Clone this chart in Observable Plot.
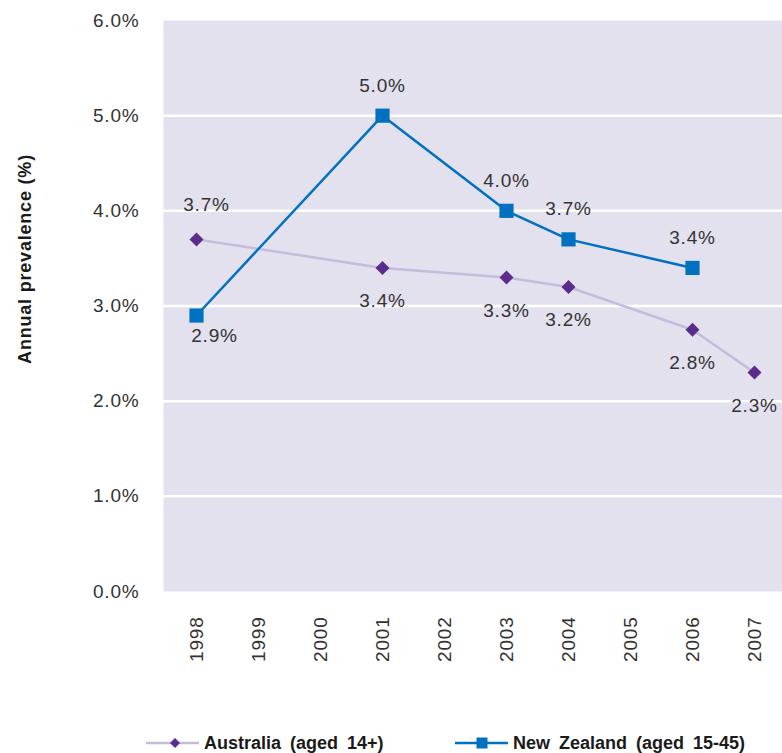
<!DOCTYPE html>
<html>
<head>
<meta charset="utf-8">
<script src="https://cdn.jsdelivr.net/npm/d3@7"></script>
<script src="https://cdn.jsdelivr.net/npm/@observablehq/plot@0.6"></script>
<style>
  body { margin: 0; background: #fff; font-family: "Liberation Sans", Arial, sans-serif; }
  #legend { position: relative; width: 782px; height: 43px; }
  .item { position: absolute; top: 23px; height: 20px; display: flex; align-items: center;
          font-weight: bold; font-size: 18px; color: #1a1a1a; word-spacing: 4px; white-space: nowrap; }
  .item svg { margin-right: 5px; }
</style>
</head>
<body>
<div id="chart"></div>
<div id="legend"></div>
<script>
// Survey years shown on the x axis
const years = ["1998", "1999", "2000", "2001", "2002", "2003", "2004", "2005", "2006", "2007"];

// Australia (aged 14+): annual prevalence, %
const ausYears = ["1998", "2001", "2003", "2004", "2006", "2007"];
const ausValues = [3.7, 3.4, 3.3, 3.2, 2.75, 2.3];

// New Zealand (aged 15-45): annual prevalence, %
const nzYears = ["1998", "2001", "2003", "2004", "2006"];
const nzValues = [2.9, 5.0, 4.0, 3.7, 3.4];

// Y axis ticks
const yTicks = [0, 1, 2, 3, 4, 5, 6];
const gridTicks = [1, 2, 3, 4, 5];

const seriesNames = ["Australia (aged 14+)", "New Zealand (aged 15-45)"];

const aus = ausYears.map((year, i) => ({year, value: ausValues[i], i}));
const nz = nzYears.map((year, i) => ({year, value: nzValues[i], i}));

const pct = (d) => d.toFixed(1) + "%";

const ausLine = "#c5bbdc";
const ausMark = "#5b2c8c";
const nzColor = "#0070c0";
const textColor = "#333333";

const labelStyle = {fontSize: 19, fill: textColor, stroke: null};

const chart = Plot.plot({
  width: 782,
  height: 710,
  marginTop: 20,
  marginBottom: 119,
  marginLeft: 163,
  marginRight: 0,
  style: {fontFamily: "'Liberation Sans', Arial, sans-serif", fontSize: "19px", color: textColor, letterSpacing: "0.8px", background: "#fff"},
  x: {type: "point", domain: years, range: [163, 786], padding: 0.5, label: null},
  y: {domain: [0, 6], label: null},
  marks: [
    Plot.frame({fill: "#e3e1ed", stroke: "none"}),
    Plot.ruleY(gridTicks, {stroke: "#ffffff", strokeWidth: 2.5}),
    Plot.axisY({ticks: yTicks, tickFormat: pct, tickSize: 0, tickPadding: 24, fontSize: 19}),
    Plot.axisX({tickRotate: -90, tickSize: 0, tickPadding: 25, fontSize: 19}),
    Plot.text(["Annual prevalence (%)"], {frameAnchor: "left", textAnchor: "middle", rotate: -90, dx: -138, dy: -47, fontSize: 18, fontWeight: "bold", fill: "#1a1a1a"}),
    // Australia series
    Plot.line(aus, {x: "year", y: "value", stroke: ausLine, strokeWidth: 2.5}),
    Plot.dot(aus, {x: "year", y: "value", symbol: "diamond2", r: 6.3, fill: ausMark, stroke: null}),
    // New Zealand series
    Plot.line(nz, {x: "year", y: "value", stroke: nzColor, strokeWidth: 2.5}),
    Plot.dot(nz, {x: "year", y: "value", symbol: "square", r: 8, fill: nzColor, stroke: null}),
    // Value labels
    Plot.text(aus.filter(d => d.i === 0), {x: "year", y: "value", text: d => pct(d.value), dx: 10, dy: -34, ...labelStyle}),
    Plot.text(aus.filter(d => d.i > 0), {x: "year", y: "value", text: d => pct(d.value), dy: 33, ...labelStyle}),
    Plot.text(nz.filter(d => d.i === 0), {x: "year", y: "value", text: d => pct(d.value), dx: 18, dy: 20, ...labelStyle}),
    Plot.text(nz.filter(d => d.i > 0), {x: "year", y: "value", text: d => pct(d.value), dy: -30, ...labelStyle})
  ]
});
document.getElementById("chart").appendChild(chart);

// Legend below the chart
const legend = document.getElementById("legend");
function legendItem(left, name, lineColor, markColor, shape) {
  const div = document.createElement("div");
  div.className = "item";
  div.style.left = left + "px";
  const marker = shape === "diamond"
    ? `<path d="M29,3 L34,8 L29,13 L24,8 Z" fill="${markColor}"/>`
    : `<rect x="21.5" y="2.5" width="11" height="11" fill="${markColor}"/>`;
  div.innerHTML = `<svg width="53" height="16" viewBox="0 0 53 16"><line x1="0" y1="8" x2="53" y2="8" stroke="${lineColor}" stroke-width="2.5"/>${marker}</svg><span>${name}</span>`;
  legend.appendChild(div);
}
legendItem(146, seriesNames[0], ausLine, ausMark, "diamond");
legendItem(455, seriesNames[1], nzColor, nzColor, "square");
</script>
</body>
</html>
